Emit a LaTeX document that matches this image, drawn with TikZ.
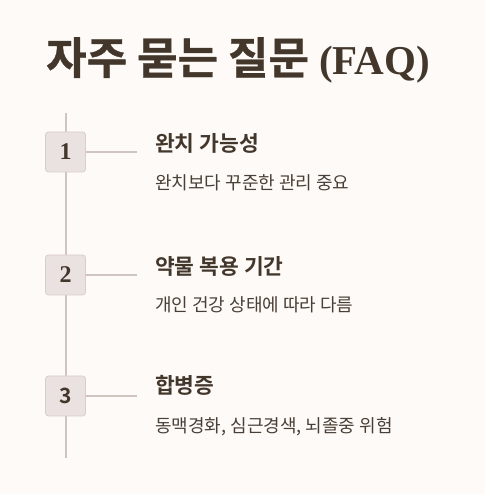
\documentclass[tikz,border=0pt]{standalone}
\usepackage{fontspec}
\newfontfamily\kr{Noto Sans CJK KR}
\newfontfamily\krb{Noto Sans CJK KR Bold}
\newfontfamily\krh[FakeBold=0.8]{Noto Sans CJK KR Bold}
\newfontfamily\serifb{Liberation Serif Bold}
\definecolor{bg}{HTML}{FDFAF7}
\definecolor{ink}{HTML}{43372C}
\definecolor{sub}{HTML}{4A3F36}
\definecolor{boxfill}{HTML}{EAE2E0}
\definecolor{boxline}{HTML}{D9CDC9}
\definecolor{rule}{HTML}{CFC4C0}
\tikzset{
  numbox/.style={draw=boxline, fill=boxfill, rounded corners=3pt, minimum width=40pt, minimum height=40pt, inner sep=0pt, line width=0.8pt, text=ink, font=\serifb\fontsize{24}{24}\selectfont},
  head/.style={anchor=west, inner sep=0pt, text=ink, font=\krb\fontsize{21.5}{24}\selectfont},
  desc/.style={anchor=west, inner sep=0pt, text=sub, font=\kr\fontsize{18}{20}\selectfont},
  conn/.style={draw=rule, line width=1.2pt}
}
\begin{document}
\begin{tikzpicture}[x=1pt,y=1pt]
\fill[bg] (0,0) rectangle (485,494);
\useasboundingbox (0,0) rectangle (485,494);
\node[anchor=west, inner sep=0pt, text=ink] (title) at (46,434) {\krh\fontsize{44}{46}\selectfont 자주 묻는 질문 {\serifb\fontsize{41}{46}\selectfont (FAQ)}};
\coordinate (top) at (66,381);
\coordinate (bot) at (66,36);
\draw[conn] (top) -- (bot);
\node[numbox] (b1) at (65.5,342) {1};
\node[numbox] (b2) at (65.5,219) {2};
\node[numbox] (b3) at (65.5,98) {\krb\fontsize{21}{21}\selectfont 3};
\coordinate (e1) at (137,342);
\coordinate (e2) at (137,219);
\coordinate (e3) at (137,98);
\draw[conn] (b1.east) -- (e1);
\draw[conn] (b2.east) -- (e2);
\draw[conn] (b3.east) -- (e3);
\node[head] (h1) at (155,351) {완치 가능성};
\node[desc] (d1) at (155,311) {완치보다 꾸준한 관리 중요};
\node[head] (h2) at (155,228) {약물 복용 기간};
\node[desc] (d2) at (155,189) {개인 건강 상태에 따라 다름};
\node[head] (h3) at (155,109) {합병증};
\node[desc] (d3) at (155,67) {동맥경화, 심근경색, 뇌졸중 위험};
\end{tikzpicture}
\end{document}
